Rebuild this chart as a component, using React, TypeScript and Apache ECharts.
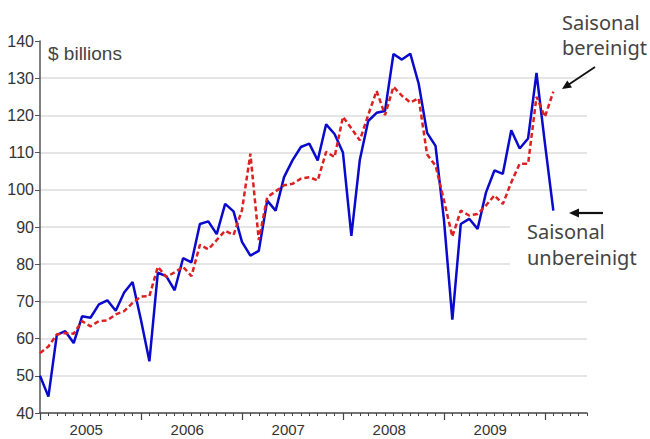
import React, { useEffect, useRef } from "react";
import * as echarts from "echarts";

// Monthly values, Jan 2005 .. Feb 2010 ($ billions)
const unadjusted = [
  50, 44.4, 61, 62, 58.8, 66, 65.6, 69.2, 70.3, 67.5, 72.4, 75.2,
  65, 53.9, 77.7, 76.8, 73, 81.6, 80.5, 90.8, 91.5, 88.1, 96.2, 94.2,
  86, 82.3, 83.6, 97.1, 94.4, 103.4, 107.9, 111.5, 112.4, 107.9, 117.6, 115,
  110, 87.6, 108, 118.5, 120.7, 121.2, 136.5, 135, 136.6, 128.5, 115.3, 111.8,
  92, 65.1, 90.8, 92.2, 89.5, 99.3, 105.2, 104.3, 116, 111.1, 113.8, 131.4,
  112.5, 94.4,
];
const adjusted = [
  56.1, 57.9, 61.1, 61.5, 61.3, 64.7, 63.3, 64.7, 64.9, 66.5, 67.4, 69.6,
  71.3, 71.4, 79.3, 76.6, 77.8, 79.3, 76.8, 85.2, 84, 86.5, 89, 87.9,
  94.5, 109.7, 86.5, 98, 99.6, 101.2, 101.6, 103, 103.4, 102.5, 110.2, 108.8,
  119.6, 116.5, 113.3, 120.1, 126.6, 120.1, 127.7, 125.3, 123.5, 124.6, 109.5, 106.5,
  97.2, 87.4, 94.4, 93.1, 93.5, 95.8, 98.5, 96.2, 102, 107, 107, 125,
  119.6, 126.4,
];
const years = ["2005", "2006", "2007", "2008", "2009"];
const monthCount = 66; // axis runs Jan 2005 .. Jun 2010
const yTicks = [40, 50, 60, 70, 80, 90, 100, 110, 120, 130, 140];

const axisFont = "'Liberation Sans Narrow', 'Arial Narrow', 'Liberation Sans', Arial, sans-serif";
const annFont = "'Noto Sans', 'Liberation Sans', sans-serif";

export default function App() {
  const ref = useRef<HTMLDivElement>(null);
  useEffect(() => {
    if (!ref.current) return;
    const chart = echarts.init(ref.current, null, { renderer: "svg" });
    const monthTicks = Array.from({ length: monthCount }, (_, i) => i);
    const yearTicks = years.map((_, k) => k * 12).concat([years.length * 12]);
    const yearLabelPos = years.map((_, k) => k * 12 + 5.5);
    const toPairs = (arr: number[]) => arr.map((v, i) => [i, v]);

    chart.setOption({
      animation: false,
      backgroundColor: "#ffffff",
      grid: { left: 40, right: 63, top: 41, bottom: 26, containLabel: false },
      xAxis: [
        {
          type: "value",
          min: 0,
          max: monthCount - 1,
          axisLine: { show: true, lineStyle: { color: "#444", width: 1.5 } },
          axisTick: {
            show: true,
            customValues: monthTicks,
            length: 3,
            lineStyle: { color: "#444", width: 1 },
          },
          axisLabel: {
            show: true,
            customValues: yearLabelPos,
            formatter: (v: number) => years[Math.floor(v / 12)] ?? "",
            color: "#333",
            fontFamily: axisFont,
            fontSize: 15,
            margin: 9,
          },
          splitLine: { show: false },
        },
        {
          type: "value",
          min: 0,
          max: monthCount - 1,
          position: "bottom",
          axisLine: { show: false },
          axisTick: {
            show: true,
            customValues: yearTicks,
            length: 7,
            lineStyle: { color: "#444", width: 1.2 },
          },
          axisLabel: { show: false },
          splitLine: { show: false },
        },
      ],
      yAxis: {
        type: "value",
        min: yTicks[0],
        max: yTicks[yTicks.length - 1],
        interval: 10,
        axisLine: { show: true, lineStyle: { color: "#555", width: 1.5 } },
        axisTick: { show: true, length: 5, lineStyle: { color: "#555", width: 1 } },
        axisLabel: {
          color: "#333",
          fontFamily: axisFont,
          fontSize: 16,
          margin: 6,
        },
        splitLine: {
          show: true,
          lineStyle: { color: "#dcdcdc", width: 1.5 },
          showMinLine: false,
          showMaxLine: false,
        },
      },
      series: [
        {
          name: "Saisonal bereinigt",
          type: "line",
          data: toPairs(adjusted),
          symbol: "none",
          z: 3,
          lineStyle: { color: "#dd2020", width: 2.5, type: [5, 3] },
        },
        {
          name: "Saisonal unbereinigt",
          type: "line",
          data: toPairs(unadjusted),
          symbol: "none",
          z: 2,
          lineStyle: { color: "#0a0acc", width: 2.5 },
        },
      ],
      graphic: [
        {
          type: "text",
          x: 48,
          y: 53,
          style: {
            text: "$ billions",
            fill: "#444",
            font: `19px 'Liberation Sans', Arial, sans-serif`,
            textVerticalAlign: "middle",
          },
        },
        {
          type: "rect",
          z: 1,
          shape: { x: 510, y: 218, width: 140, height: 55 },
          style: { fill: "#ffffff" },
        },
        {
          type: "text",
          x: 562,
          y: 22,
          z: 5,
          style: { text: "Saisonal", fill: "#444", font: `20px ${annFont}`, textVerticalAlign: "middle" },
        },
        {
          type: "text",
          x: 562,
          y: 47,
          z: 5,
          style: { text: "bereinigt", fill: "#444", font: `20px ${annFont}`, textVerticalAlign: "middle" },
        },
        {
          type: "text",
          x: 527,
          y: 231,
          z: 5,
          style: { text: "Saisonal", fill: "#444", font: `20px ${annFont}`, textVerticalAlign: "middle" },
        },
        {
          type: "text",
          x: 527,
          y: 257,
          z: 5,
          style: { text: "unbereinigt", fill: "#444", font: `20px ${annFont}`, textVerticalAlign: "middle" },
        },
        {
          type: "line",
          z: 5,
          shape: { x1: 595, y1: 67, x2: 568, y2: 85 },
          style: { stroke: "#111", lineWidth: 1.8 },
        },
        {
          type: "polygon",
          z: 5,
          shape: { points: [[562, 89], [572, 87.5], [567.3, 80.5]] },
          style: { fill: "#111" },
        },
        {
          type: "line",
          z: 5,
          shape: { x1: 603, y1: 213, x2: 576, y2: 213 },
          style: { stroke: "#111", lineWidth: 2.2 },
        },
        {
          type: "polygon",
          z: 5,
          shape: { points: [[569, 213], [579, 208.5], [579, 217.5]] },
          style: { fill: "#111" },
        },
      ],
    });
    return () => chart.dispose();
  }, []);
  return <div ref={ref} style={{ width: 650, height: 439, position: "absolute", left: 0, top: 0 }} />;
}
